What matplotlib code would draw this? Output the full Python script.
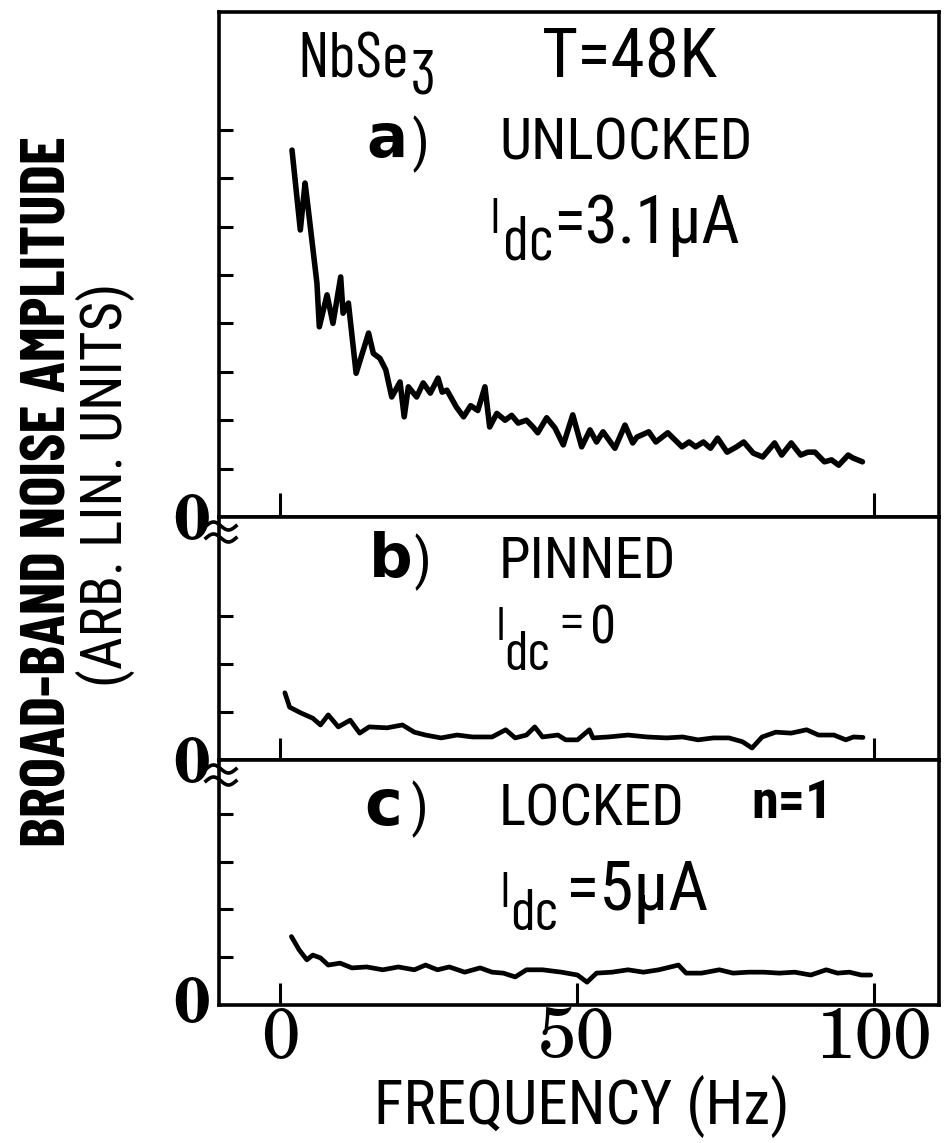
import numpy as np
from matplotlib import pyplot as plt
from matplotlib import font_manager
from matplotlib.lines import Line2D

## Values (frequency in Hz, amplitude in tick units)
freq_a = [2.0, 3.4, 4.2, 4.7, 6.2, 6.6, 7.9, 8.9, 10.2, 10.6,
          11.5, 12.8, 14.9, 15.7, 16.8, 17.8, 18.8, 20.2, 20.9, 21.6,
          23.0, 24.1, 25.3, 26.6, 27.3, 28.1, 29.7, 30.9, 32.1, 33.3,
          34.5, 35.3, 36.5, 37.9, 39.0, 40.1, 41.5, 42.6, 43.4, 44.9,
          46.3, 47.7, 49.3, 50.8, 52.2, 53.3, 54.4, 56.4, 58.1, 59.4,
          60.1, 62.1, 63.3, 65.3, 67.7, 68.9, 70.0, 71.3, 72.5, 73.7,
          75.3, 76.9, 78.1, 79.7, 81.3, 83.3, 84.5, 86.1, 87.7, 88.9,
          90.1, 91.7, 92.9, 94.1, 95.7, 96.5, 98.1]
amp_a = [7.58, 5.93, 6.90, 6.40, 4.83, 3.93, 4.59, 4.00, 4.96, 4.21,
         4.42, 2.97, 3.80, 3.38, 3.28, 3.04, 2.48, 2.79, 2.07, 2.69,
         2.48, 2.77, 2.56, 2.87, 2.58, 2.62, 2.27, 2.07, 2.30, 2.20,
         2.69, 1.86, 2.14, 2.00, 2.10, 1.94, 2.00, 1.86, 1.74, 2.05,
         1.84, 1.49, 2.11, 1.45, 1.80, 1.55, 1.76, 1.42, 1.90, 1.53,
         1.65, 1.76, 1.55, 1.74, 1.45, 1.55, 1.45, 1.55, 1.42, 1.63,
         1.34, 1.45, 1.55, 1.32, 1.24, 1.53, 1.28, 1.53, 1.28, 1.34,
         1.34, 1.14, 1.18, 1.07, 1.28, 1.22, 1.14]

freq_b = [0.8, 1.6, 3.5, 5.5, 6.8, 8.1, 9.8, 11.8, 13.4, 15.0,
          18.0, 20.6, 22.6, 24.5, 27.1, 29.8, 32.4, 35.7, 38.0, 39.6,
          41.5, 42.9, 44.2, 46.8, 48.1, 50.1, 52.1, 52.7, 55.3, 58.6,
          61.8, 65.1, 67.8, 70.4, 73.0, 75.6, 77.9, 79.5, 81.2, 83.5,
          86.1, 88.7, 90.7, 93.3, 95.3, 96.6, 98.2]
amp_b = [1.40, 1.10, 0.98, 0.87, 0.73, 0.94, 0.69, 0.83, 0.56, 0.69,
         0.67, 0.73, 0.58, 0.52, 0.46, 0.52, 0.48, 0.48, 0.63, 0.46,
         0.52, 0.69, 0.48, 0.52, 0.42, 0.42, 0.63, 0.46, 0.48, 0.52,
         0.48, 0.46, 0.48, 0.42, 0.46, 0.46, 0.38, 0.25, 0.48, 0.58,
         0.56, 0.63, 0.52, 0.52, 0.42, 0.48, 0.47]

freq_c = [1.9, 3.2, 4.5, 5.5, 6.8, 8.1, 10.1, 12.1, 14.6, 17.3,
          19.9, 22.6, 24.5, 26.5, 28.5, 31.1, 33.7, 35.7, 37.6, 39.6,
          41.5, 44.2, 47.4, 50.1, 51.7, 53.3, 55.9, 58.6, 61.2, 63.8,
          67.1, 68.4, 71.0, 74.0, 76.3, 78.9, 81.5, 84.1, 86.7, 89.4,
          92.0, 93.9, 95.9, 97.9, 99.5]
amp_c = [1.42, 1.14, 0.93, 1.03, 0.97, 0.82, 0.86, 0.76, 0.78, 0.72,
         0.78, 0.72, 0.82, 0.72, 0.78, 0.67, 0.76, 0.67, 0.65, 0.57,
         0.72, 0.72, 0.67, 0.61, 0.46, 0.65, 0.67, 0.72, 0.67, 0.72,
         0.82, 0.65, 0.65, 0.72, 0.65, 0.67, 0.67, 0.65, 0.67, 0.61,
         0.72, 0.65, 0.67, 0.61, 0.61]

xtick_vals = [0, 50, 100]
xtick_labels = ['0', '50', '100']

## fonts: pick condensed lettering faces that are installed
names = {f.name for f in font_manager.fontManager.ttflist}

def pick(*cands):
    for c in cands:
        if c in names:
            return c
    return 'DejaVu Sans'

narrow = pick('Barlow Condensed', 'Roboto Condensed', 'Liberation Sans Narrow')
narrow2 = pick('Roboto Condensed', 'Barlow Condensed', 'Liberation Sans Narrow')
serif = pick('TeX Gyre Schola', 'DejaVu Serif')
k = 1.0 if narrow != 'DejaVu Sans' else 0.72

W, H = 945, 1143
fig = plt.figure(figsize=(W/100, H/100), dpi=100)

def fx(x):
    return x / W

def fy(y):
    return 1 - y / H

def label(x, y, s, size, family=None, **kw):
    fig.text(fx(x), fy(y), s, fontsize=size, family=family or narrow,
             ha=kw.pop('ha', 'left'), va=kw.pop('va', 'baseline'), **kw)

# panel frames in pixels (top, bottom), y limits, ticks
L, R = 219, 939
panels = [(12, 517, (0, 505/48.4), range(1, 9), [0, 100], 17),
          (517, 760, (0, 243/48.0), range(1, 4), [0, 100], 16),
          (760, 1005, (-1/47.5, 244/47.5), range(1, 5), [0, 50, 100], 16)]
series = [(freq_a, amp_a, 4.0), (freq_b, amp_b, 3.4), (freq_c, amp_c, 3.4)]

axes = []
for (top, bot, ylim, yt, xt, tl), (f, a, lw) in zip(panels, series):
    ax = fig.add_axes([fx(L), fy(bot), (R-L)/W, (bot-top)/H])
    ax.plot(f, a, 'k-', lw=lw, solid_joinstyle='round', solid_capstyle='round')
    ax.set_xlim(-10.3, 111.0)
    ax.set_ylim(*ylim)
    ax.set_yticks(list(yt))
    ax.set_yticklabels([])
    ax.set_xticks(xt)
    ax.set_xticklabels([])
    ax.tick_params(axis='y', direction='in', length=10, width=2.2, left=True, right=False)
    ax.tick_params(axis='x', direction='in', length=tl, width=2.2, bottom=True, top=False)
    for sp in ax.spines.values():
        sp.set_linewidth(2.6)
    axes.append(ax)

ax_c = axes[2]
ax_c.set_xticks(xtick_vals)
ax_c.set_xticklabels(xtick_labels, family=serif, fontsize=50)
ax_c.tick_params(axis='x', pad=1)

# zero labels and axis-break squiggles on the left spine
for yc in [517, 760, 1000]:
    label(192, yc + 22, '0', 46, family=serif, ha='center', weight='bold')
t = np.linspace(0, 1, 40)
for y0 in [517, 760]:
    for dy in [9, 21]:
        xs = 206 + 30*t
        ys = y0 + dy - 4*np.sin(2*np.pi*t)
        fig.add_artist(Line2D(fx(xs), fy(ys), color='k', lw=2.6,
                              transform=fig.transFigure))

# axis titles
label(66, 492, 'BROAD-BAND NOISE AMPLITUDE', 46*k, rotation=90,
      rotation_mode='anchor', ha='center', weight='bold')
label(122, 485, '(ARB. LIN. UNITS)', 41*k, family=narrow2, rotation=90,
      rotation_mode='anchor', ha='center')
label(582, 1124, 'FREQUENCY (Hz)', 44*k, family=narrow2, ha='center')

# panel a
label(297, 78, 'NbSe', 46*k)
label(411, 93, '3', 44*k)
label(542, 78, 'T=48K', 50*k, family=narrow2)
label(366, 157, 'a', 44, family='DejaVu Sans', weight='bold')
label(412, 160, ')', 40*k, family=narrow2)
label(499, 160, 'UNLOCKED', 41*k, family=narrow2)
label(489, 233, 'I', 36*k)
label(503, 260, 'dc', 44*k)
label(553, 243, '=3.1\u00b5A', 48*k, family=narrow2)

# panel b
label(369, 577, 'b', 44, family='DejaVu Sans', weight='bold')
label(414, 578, ')', 40*k, family=narrow2)
label(499, 578, 'PINNED', 41*k, family=narrow2)
label(496, 640, 'I', 34*k)
label(504, 670, 'dc', 40*k)
label(560, 638, '=', 36*k)
label(590, 643, '0', 38*k, family=narrow2)

# panel c
label(364, 825, 'c', 46, family='DejaVu Sans', weight='bold')
label(411, 825, ')', 40*k, family=narrow2)
label(499, 825, 'LOCKED', 41*k, family=narrow2)
label(751, 818, 'n=1', 39*k, family=narrow2, weight='bold')
label(499, 907, 'I', 36*k)
label(510, 930, 'dc', 42*k)
label(566, 910, '=5\u00b5A', 50*k, family=narrow2)

fig.savefig('out.png', dpi=100)
